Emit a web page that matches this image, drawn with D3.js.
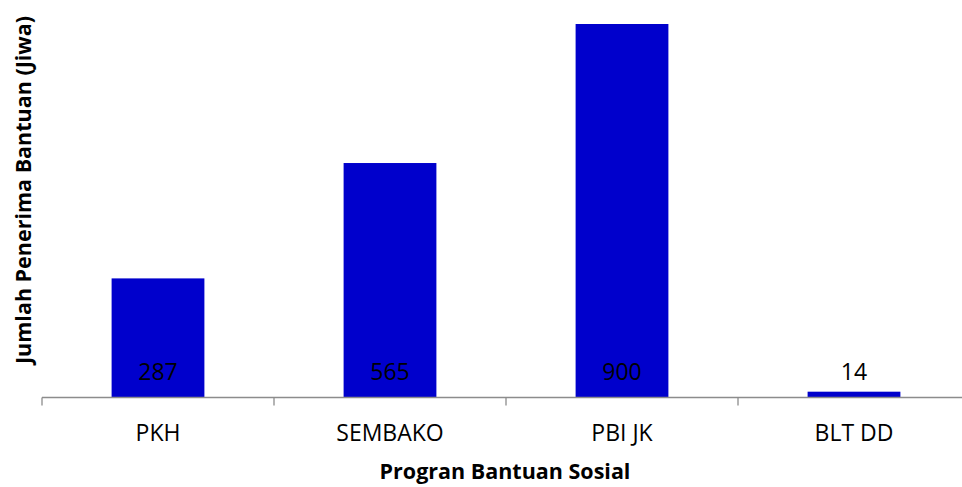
<!DOCTYPE html>
<html><head><meta charset="utf-8">
<script src="https://cdn.jsdelivr.net/npm/d3@7"></script>
<style>body{margin:0;background:#fff}svg{display:block}text{font-family:"Open Sans",sans-serif}</style>
</head><body>
<svg id="c" width="962" height="487"></svg>
<script>
const categories = ["PKH","SEMBAKO","PBI JK","BLT DD"];
const values = [287,565,900,14];
const xTitle = "Progran Bantuan Sosial";
const yTitle = "Jumlah Penerima Bantuan (Jiwa)";

const svg = d3.select("#c");
const x0 = 42, x1 = 970, yBase = 397.5, yTop = 24;
const x = d3.scaleBand().domain(categories).range([x0,x1]).paddingInner(0.6).paddingOuter(0.3);
const y = d3.scaleLinear().domain([0,900]).range([yBase,yTop]);

svg.selectAll("rect.bar").data(categories).join("rect")
  .attr("class","bar")
  .attr("x",d=>x(d)).attr("width",x.bandwidth())
  .attr("y",(d,i)=>y(values[i])).attr("height",(d,i)=>yBase-y(values[i]))
  .attr("fill","#0000CC");

const edges = d3.range(categories.length+1).map(i=>x0+i*(x1-x0)/categories.length);
const g = svg.append("g").attr("stroke","#8c8c8c").attr("stroke-width",1.3);
g.append("line").attr("x1",x0).attr("x2",x1).attr("y1",yBase).attr("y2",yBase);
g.selectAll("line.t").data(edges).join("line").attr("class","t")
  .attr("x1",d=>d).attr("x2",d=>d).attr("y1",yBase).attr("y2",yBase+8);

svg.selectAll("text.cat").data(categories).join("text").attr("class","cat")
  .attr("x",d=>x(d)+x.bandwidth()/2).attr("y",441)
  .attr("text-anchor","middle").attr("font-size",23).attr("fill","#000").text(d=>d);

svg.selectAll("text.val").data(categories).join("text").attr("class","val")
  .attr("x",d=>x(d)+x.bandwidth()/2).attr("y",380)
  .attr("text-anchor","middle").attr("font-size",23).attr("fill","#000").text((d,i)=>values[i]);

svg.append("text").attr("x",505).attr("y",479).attr("text-anchor","middle")
  .attr("font-size",21.5).attr("font-weight","bold").text(xTitle);
svg.append("text").attr("transform","translate(31,190) rotate(-90)").attr("text-anchor","middle")
  .attr("font-size",21.5).attr("font-weight","bold").text(yTitle);
</script>
</body></html>
